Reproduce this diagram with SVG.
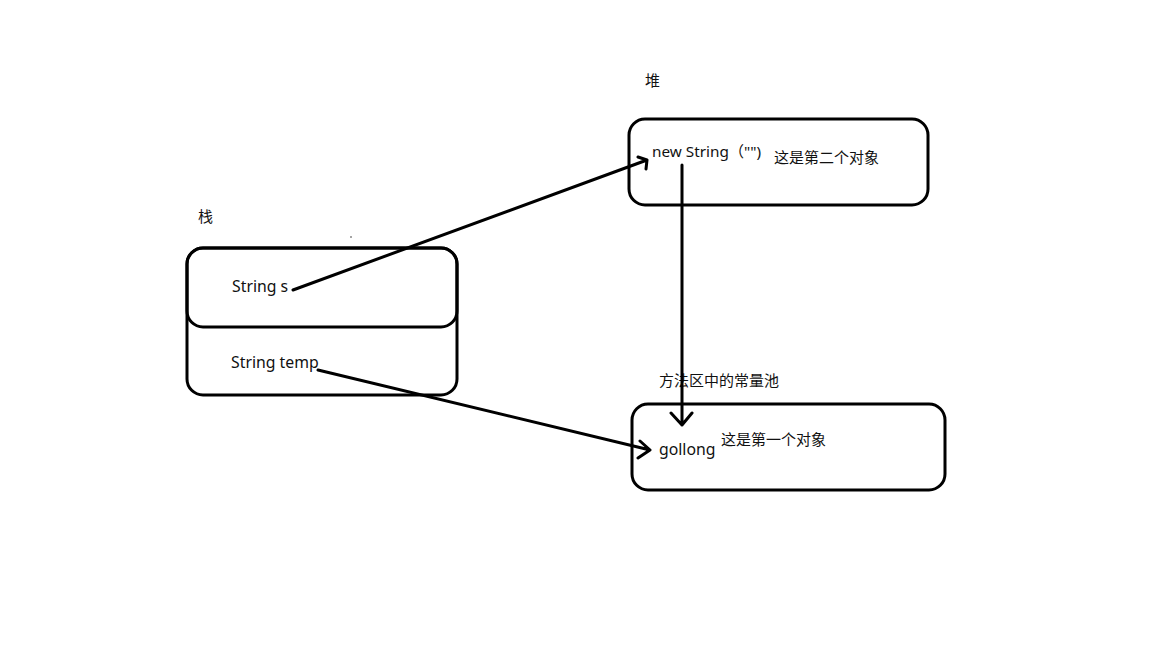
<svg xmlns="http://www.w3.org/2000/svg" width="1152" height="648" viewBox="0 0 1152 648">
<style>
.box{fill:none;stroke:#000;stroke-width:3}
.t{font-family:"Noto Sans","Noto Sans CJK SC",sans-serif;font-size:15px;fill:#111}
.l{font-size:15.8px}
.c{fill:none;stroke:#000;stroke-width:3;stroke-linecap:round;stroke-linejoin:round}
</style>
<rect width="1152" height="648" fill="#fff"/>
<g id="stack">
<text class="t" x="198" y="222">栈</text>
<rect class="box" x="187" y="248" width="270" height="147" rx="16"/>
<rect class="box" x="187" y="248" width="270" height="79" rx="16"/>
<text class="t l" x="232" y="292">String s</text>
<text class="t l" x="231" y="368">String temp</text>
<circle cx="351" cy="237" r="0.8" fill="#333"/>
</g>
<g id="heap">
<text class="t" x="645" y="86">堆</text>
<rect class="box" x="629" y="119" width="299" height="86" rx="16"/>
<text class="t" x="652" y="157" style="font-size:15.3px">new String（"")</text>
<text class="t" x="774" y="163">这是第二个对象</text>
</g>
<g id="pool">
<text class="t" x="659" y="386">方法区中的常量池</text>
<rect class="box" x="632" y="404" width="313" height="86" rx="16"/>
<text class="t l" x="659" y="455">gollong</text>
<text class="t" x="721" y="445">这是第一个对象</text>
</g>
<g id="connectors">
<path class="c" d="M293 290 L647 160 M638 157 L647 160 L646 169"/>
<path class="c" d="M318 370 L650 450 M640 441 L650 450 L638 458"/>
<path class="c" d="M682 165 L682 425 M671 413 L682 425 L692 413"/>
</g>
</svg>
